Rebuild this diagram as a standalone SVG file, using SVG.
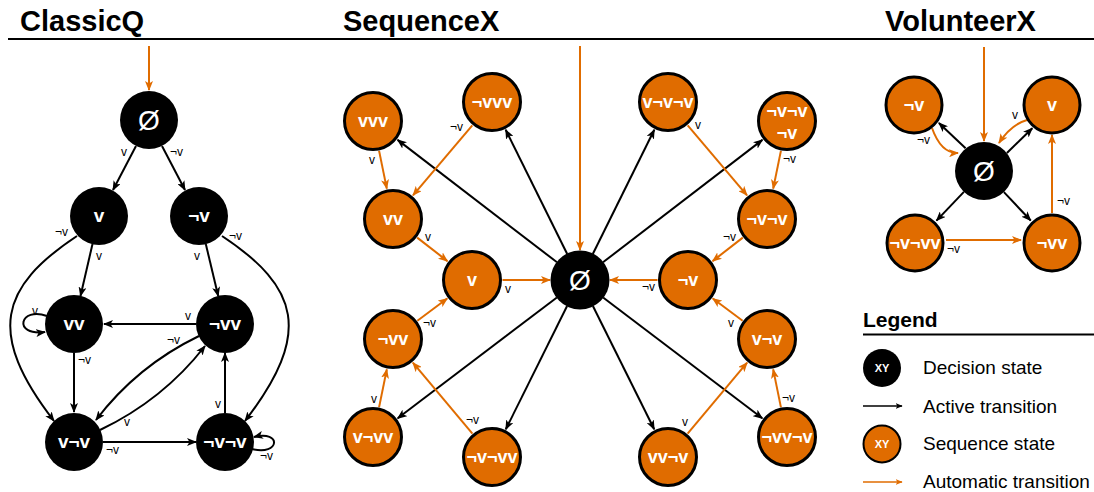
<svg xmlns="http://www.w3.org/2000/svg" width="1094" height="492" viewBox="0 0 1094 492">
<defs>
<marker id="ab" viewBox="0 0 10 8" refX="9" refY="4" markerWidth="10" markerHeight="8" markerUnits="userSpaceOnUse" orient="auto"><path d="M0,0 L10,4 L0,8 L2.5,4 z" fill="#000"/></marker>
<marker id="ao" viewBox="0 0 10 8" refX="9" refY="4" markerWidth="10" markerHeight="8" markerUnits="userSpaceOnUse" orient="auto"><path d="M0,0 L10,4 L0,8 L2.5,4 z" fill="#E06C00"/></marker>
<marker id="abs" viewBox="0 0 10 8" refX="9" refY="4" markerWidth="7" markerHeight="6" markerUnits="userSpaceOnUse" orient="auto"><path d="M0,0 L10,4 L0,8 L2.5,4 z" fill="#000"/></marker>
<marker id="aos" viewBox="0 0 10 8" refX="9" refY="4" markerWidth="7" markerHeight="6" markerUnits="userSpaceOnUse" orient="auto"><path d="M0,0 L10,4 L0,8 L2.5,4 z" fill="#E06C00"/></marker>
</defs>
<style>
text{font-family:"Liberation Sans",Arial,Helvetica,sans-serif}
.title{font-size:29px;font-weight:bold;fill:#000}
.dn{fill:#000}
.sn{fill:#E06C00;stroke:#000;stroke-width:3}
.nl{fill:#fff;font-weight:bold;font-size:18px;text-anchor:middle}
.cl{fill:#fff;font-weight:bold;font-size:19px;text-anchor:middle}
.em{fill:#fff;font-size:28px;text-anchor:middle}
.el{font-size:12px;fill:#000}
.eb{stroke:#000;stroke-width:2;fill:none;marker-end:url(#ab)}
.eo{stroke:#E06C00;stroke-width:2;fill:none;marker-end:url(#ao)}
.lg{font-size:19px;fill:#000}
</style>
<rect width="1094" height="492" fill="#fff"/>

<g id="headers">
<text class="title" x="20" y="31">ClassicQ</text>
<text class="title" x="343" y="31">SequenceX</text>
<text class="title" x="885" y="31">VolunteerX</text>
<path d="M8,39 L1094,39" stroke="#000" stroke-width="2"/>
</g>

<!-- ClassicQ connectors -->
<g id="classicq-edges">
<path class="eo" d="M149,46 L149,90"/>
<path class="eb" d="M136,146 L113,190"/>
<path class="eb" d="M162,146 L185,190"/>
<path class="eb" d="M92.5,244 L80.5,296"/>
<path class="eb" d="M205.8,244 L218.2,296"/>
<path class="eb" d="M77,236 C0,287 -14,333 54,421"/>
<path class="eb" d="M222,236 C299,287 313,333 245,421"/>
<path class="eb" d="M196,324 L104,324"/>
<path class="eb" d="M47,316 C20,306 12,336 45,332"/>
<path class="eb" d="M74,353 L74,412"/>
<path class="eb" d="M199,336 Q137,366 96,420"/>
<path class="eb" d="M100,430 Q163,400 205,346"/>
<path class="eb" d="M103,442 L196,442"/>
<path class="eb" d="M225,413 L225,353"/>
<path class="eb" d="M252,449 C280,456 282,430 254,437"/>
<text class="el" x="121" y="156">v</text>
<text class="el" x="170" y="156">¬v</text>
<text class="el" x="55" y="236">¬v</text>
<text class="el" x="229" y="240">¬v</text>
<text class="el" x="96" y="260">v</text>
<text class="el" x="194" y="260">v</text>
<text class="el" x="32" y="315">v</text>
<text class="el" x="185" y="320">v</text>
<text class="el" x="167" y="344">¬v</text>
<text class="el" x="78" y="364">¬v</text>
<text class="el" x="215" y="408">v</text>
<text class="el" x="124" y="426">v</text>
<text class="el" x="106" y="454">¬v</text>
<text class="el" x="260" y="460">¬v</text>
</g>

<g id="cq-empty"><circle class="dn" cx="149" cy="120" r="29"/><text class="em" x="149" y="130">Ø</text></g>
<g id="cq-v"><circle class="dn" cx="99" cy="216" r="29"/><text class="cl" x="99" y="222">v</text></g>
<g id="cq-nv"><circle class="dn" cx="199" cy="216" r="29"/><text class="cl" x="199" y="222">¬v</text></g>
<g id="cq-vv"><circle class="dn" cx="74" cy="324" r="29"/><text class="cl" x="74" y="330">vv</text></g>
<g id="cq-nvv"><circle class="dn" cx="225" cy="324" r="29"/><text class="cl" x="225" y="330">¬vv</text></g>
<g id="cq-vnv"><circle class="dn" cx="74" cy="442" r="29"/><text class="cl" x="74" y="448">v¬v</text></g>
<g id="cq-nvnv"><circle class="dn" cx="225" cy="442" r="29"/><text class="cl" x="225" y="448">¬v¬v</text></g>

<!-- SequenceX connectors -->
<g id="sequencex-edges">
<path class="eo" d="M580,46 L580,250"/>
<path class="eb" d="M557,262.3 L397.6,139.9"/>
<path class="eb" d="M567.2,254 L505.7,129.8"/>
<path class="eb" d="M556.9,297.5 L397.7,418.3"/>
<path class="eb" d="M567.1,306 L505.8,429.3"/>
<path class="eb" d="M603,262.3 L762.4,139.9"/>
<path class="eb" d="M592.8,254 L654.3,129.8"/>
<path class="eb" d="M603.1,297.5 L762.3,418.3"/>
<path class="eb" d="M592.9,306 L654.2,429.3"/>
<path class="eo" d="M472.3,125.3 L413,195.3"/>
<path class="eo" d="M379.1,150.9 L386.8,188.6"/>
<path class="eo" d="M417.2,237.6 L447.4,261.1"/>
<path class="eo" d="M502.5,280 L550,280"/>
<path class="eo" d="M417.4,320.8 L447.2,298.5"/>
<path class="eo" d="M379.1,407.1 L386.8,369.4"/>
<path class="eo" d="M472.4,433.6 L412.9,362.7"/>
<path class="eo" d="M687.7,125.3 L747,195.3"/>
<path class="eo" d="M780.9,150.9 L773.2,188.6"/>
<path class="eo" d="M742.8,237.6 L712.6,261.1"/>
<path class="eo" d="M657.5,280 L610,280"/>
<path class="eo" d="M742.6,320.8 L712.8,298.5"/>
<path class="eo" d="M780.9,407.1 L773.2,369.4"/>
<path class="eo" d="M687.6,433.6 L747.1,362.7"/>
<text class="el" x="450" y="131">¬v</text>
<text class="el" x="369" y="164">v</text>
<text class="el" x="425" y="241">v</text>
<text class="el" x="505" y="293">v</text>
<text class="el" x="423" y="327">¬v</text>
<text class="el" x="371" y="403">v</text>
<text class="el" x="466" y="424">¬v</text>
<text class="el" x="695" y="129">v</text>
<text class="el" x="783" y="163">¬v</text>
<text class="el" x="723" y="241">¬v</text>
<text class="el" x="642" y="291">¬v</text>
<text class="el" x="728" y="327">v</text>
<text class="el" x="782" y="402">¬v</text>
<text class="el" x="682" y="426">v</text>
</g>

<g id="sx-empty"><circle class="dn" cx="580" cy="280" r="29.5"/><text class="em" x="580" y="290">Ø</text></g>
<g id="sx-vvv"><circle class="sn" cx="373" cy="121" r="28.5"/><text class="nl" x="373" y="127">vvv</text></g>
<g id="sx-nvvv"><circle class="sn" cx="492" cy="102" r="28.5"/><text class="nl" x="492" y="108">¬vvv</text></g>
<g id="sx-vv"><circle class="sn" cx="393" cy="219" r="28.5"/><text class="nl" x="393" y="225">vv</text></g>
<g id="sx-v"><circle class="sn" cx="472" cy="280" r="28.5"/><text class="nl" x="472" y="286">v</text></g>
<g id="sx-nvv"><circle class="sn" cx="393" cy="339" r="28.5"/><text class="nl" x="393" y="345">¬vv</text></g>
<g id="sx-vnvv"><circle class="sn" cx="373" cy="437" r="28.5"/><text class="nl" x="373" y="443">v¬vv</text></g>
<g id="sx-nvnvv"><circle class="sn" cx="492" cy="457" r="28.5"/><text class="nl" x="492" y="463">¬v¬vv</text></g>
<g id="sx-vnvnv"><circle class="sn" cx="668" cy="102" r="28.5"/><text class="nl" x="668" y="108">v¬v¬v</text></g>
<g id="sx-nvnvnv"><circle class="sn" cx="787" cy="121" r="28.5"/><text class="nl" x="787" y="117">¬v¬v</text><text class="nl" x="787" y="139">¬v</text></g>
<g id="sx-nvnv"><circle class="sn" cx="767" cy="219" r="28.5"/><text class="nl" x="767" y="225">¬v¬v</text></g>
<g id="sx-nv"><circle class="sn" cx="688" cy="280" r="28.5"/><text class="nl" x="688" y="286">¬v</text></g>
<g id="sx-vnv"><circle class="sn" cx="767" cy="339" r="28.5"/><text class="nl" x="767" y="345">v¬v</text></g>
<g id="sx-nvvnv"><circle class="sn" cx="787" cy="437" r="28.5"/><text class="nl" x="787" y="443">¬vv¬v</text></g>
<g id="sx-vvnv"><circle class="sn" cx="668" cy="457" r="28.5"/><text class="nl" x="668" y="463">vv¬v</text></g>

<!-- VolunteerX connectors -->
<g id="volunteerx-edges">
<path class="eo" d="M984,47 L984,141"/>
<path class="eb" d="M965.6,148.2 L938.9,123"/>
<path class="eo" d="M932,128 Q941,153.5 958,153"/>
<path class="eb" d="M1006.9,153 L1032.3,128.3"/>
<path class="eo" d="M1027,120 Q1011,124.5 999,143"/>
<path class="eb" d="M963.9,191.9 L936.5,220.6"/>
<path class="eb" d="M1003.9,192.1 L1030.7,220.5"/>
<path class="eo" d="M946,240 L1021,240"/>
<path class="eo" d="M1052,213 L1052,135"/>
<text class="el" x="917" y="144">¬v</text>
<text class="el" x="1012" y="119">v</text>
<text class="el" x="947" y="253">¬v</text>
<text class="el" x="1057" y="205">¬v</text>
</g>

<g id="vx-empty"><circle class="dn" cx="984" cy="171" r="29"/><text class="em" x="984" y="181">Ø</text></g>
<g id="vx-nv"><circle class="sn" cx="914" cy="105" r="28"/><text class="nl" x="914" y="111">¬v</text></g>
<g id="vx-v"><circle class="sn" cx="1052" cy="105" r="28"/><text class="nl" x="1052" y="111">v</text></g>
<g id="vx-nvnvv"><circle class="sn" cx="915" cy="243" r="28"/><text class="nl" x="915" y="249">¬v¬vv</text></g>
<g id="vx-nvv"><circle class="sn" cx="1052" cy="243" r="28"/><text class="nl" x="1052" y="249">¬vv</text></g>

<g id="legend">
<text x="863" y="327" style="font-size:21px;font-weight:bold">Legend</text>
<path d="M863,334.5 L1094,334.5" stroke="#000" stroke-width="2"/>
<circle cx="882" cy="368" r="19" fill="#000"/>
<text x="882" y="372" style="font-size:11px;font-weight:bold;fill:#fff;text-anchor:middle">XY</text>
<text class="lg" x="923" y="374">Decision state</text>
<path d="M863,406 L902,406" stroke="#000" stroke-width="1.3" marker-end="url(#abs)"/>
<text class="lg" x="923" y="413">Active transition</text>
<circle cx="882" cy="444" r="18.5" fill="#E06C00" stroke="#000" stroke-width="2"/>
<text x="882" y="448" style="font-size:11px;font-weight:bold;fill:#fff;text-anchor:middle">XY</text>
<text class="lg" x="923" y="450">Sequence state</text>
<path d="M863,482 L902,482" stroke="#E06C00" stroke-width="1.3" marker-end="url(#aos)"/>
<text class="lg" x="923" y="488">Automatic transition</text>
</g>
</svg>
